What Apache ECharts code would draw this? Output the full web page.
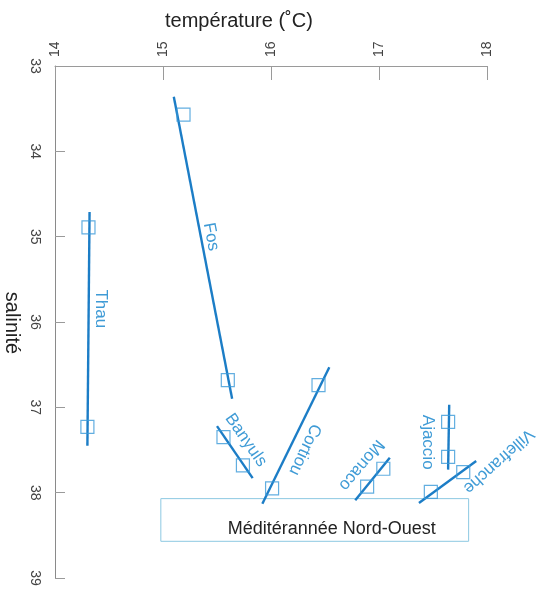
<!DOCTYPE html>
<html><head><meta charset="utf-8">
<script src="https://cdn.jsdelivr.net/npm/echarts@6/dist/echarts.min.js"></script>
<style>html,body{margin:0;padding:0;background:#fff}#c{width:546px;height:589px}</style>
</head><body><div id="c"></div>
<script>
// ---- data ----
const xTicks = [14, 15, 16, 17, 18];
const yTicks = [33, 34, 35, 36, 37, 38, 39];
const siteNames = ['Thau', 'Fos', 'Banyuls', 'Cortiou', 'Monaco', 'Ajaccio', 'Villefranche'];
// measured points [température, salinité]
const thauPoints = [[14.31, 34.89], [14.30, 37.23]];
const fosPoints = [[15.19, 33.57], [15.60, 36.68]];
const banyulsPoints = [[15.56, 37.35], [15.74, 37.68]];
const cortiouPoints = [[16.44, 36.74], [16.01, 37.95]];
const monacoPoints = [[17.04, 37.72], [16.89, 37.93]];
const ajaccioPoints = [[17.64, 37.17], [17.64, 37.58]];
const villefranchePoints = [[17.78, 37.76], [17.48, 37.99]];
// fitted lines (end points)
const thauLine = [[14.32, 34.71], [14.30, 37.45]];
const fosLine = [[15.10, 33.36], [15.64, 36.90]];
const banyulsLine = [[15.50, 37.22], [15.83, 37.83]];
const cortiouLine = [[16.54, 36.53], [15.92, 38.13]];
const monacoLine = [[17.10, 37.59], [16.78, 38.09]];
const ajaccioLine = [[17.65, 36.97], [17.64, 37.73]];
const villefrancheLine = [[17.90, 37.63], [17.37, 38.12]];
// water mass box
const boxName = 'Méditérannée Nord-Ouest';
const boxCorners = [[14.98, 38.07], [17.83, 38.57]];

const allPoints = [thauPoints, fosPoints, banyulsPoints, cortiouPoints, monacoPoints, ajaccioPoints, villefranchePoints];
const allLines = [thauLine, fosLine, banyulsLine, cortiouLine, monacoLine, ajaccioLine, villefrancheLine];

// ---- styles ----
const lineColor = '#1c7dc6';
const markColor = '#3b9ad8';
const labelColor = '#3f9bd6';
const FONT = '"Liberation Sans", Arial, sans-serif';
// label placement (pixel offsets from line midpoint, rotation clockwise deg)
const labelStyle = {
  Thau: {dx: 12, dy: -20, rot: 90},
  Fos: {dx: 8, dy: -11, rot: 79},
  Banyuls: {dx: 11, dy: -12, rot: 55},
  Cortiou: {dx: 9, dy: 14, rot: 115},
  Monaco: {dx: -11, dy: -14, rot: 130},
  Ajaccio: {dx: -21, dy: 5, rot: 90},
  Villefranche: {dx: 51, dy: -21, rot: 138}
};

const chart = echarts.init(document.getElementById('c'), null, {renderer: 'canvas'});

const series = [];
siteNames.forEach((n, i) => {
  series.push({
    name: n + '-line', type: 'line', data: allLines[i], symbol: 'none',
    lineStyle: {color: lineColor, width: 2.4}, z: 2, silent: true, animation: false
  });
  series.push({
    name: n, type: 'scatter', data: allPoints[i], symbol: 'rect', symbolSize: 13,
    itemStyle: {color: 'rgba(0,0,0,0)', borderColor: markColor, borderWidth: 1.2}, z: 3, animation: false
  });
});
series.push({
  name: 'box', type: 'scatter', data: [], animation: false,
  markArea: {
    silent: true,
    itemStyle: {color: 'rgba(0,0,0,0)', borderColor: '#8cc8e2', borderWidth: 1},
    label: {show: true, position: 'inside', offset: [17, 9], color: '#222', fontSize: 18, fontFamily: FONT},
    data: [[{name: boxName, coord: boxCorners[0]}, {coord: boxCorners[1]}]]
  }
});

chart.setOption({
  animation: false,
  grid: {left: 55, top: 66, width: 432, height: 512},
  xAxis: {
    type: 'value', position: 'top', min: xTicks[0], max: xTicks[xTicks.length - 1], interval: 1,
    axisLine: {show: true, lineStyle: {color: '#9a9a9a', width: 1}},
    axisTick: {show: true, inside: true, length: 14, lineStyle: {color: '#9a9a9a'}},
    axisLabel: {rotate: -90, margin: 9, color: '#444', fontSize: 14, fontFamily: FONT},
    splitLine: {show: false}
  },
  yAxis: {
    type: 'value', inverse: true, min: yTicks[0], max: yTicks[yTicks.length - 1], interval: 1,
    axisLine: {show: true, lineStyle: {color: '#8a8a8a', width: 1}},
    axisTick: {show: true, inside: true, length: 10, lineStyle: {color: '#9a9a9a'}},
    axisLabel: {rotate: -90, margin: 13, color: '#444', fontSize: 14, fontFamily: FONT},
    splitLine: {show: false}
  },
  series: series
});

const graphics = [
  {type: 'text', x: 165, y: 21, style: {text: 'température (˚C)', fill: '#222', font: '20px ' + FONT, align: 'left', verticalAlign: 'middle'}},
  {type: 'text', x: 12, y: 323, rotation: -Math.PI / 2,
   style: {text: 'salinité', fill: '#222', font: '20px ' + FONT, align: 'center', verticalAlign: 'middle'}}
];
siteNames.forEach((n, i) => {
  const l = allLines[i];
  const mid = [(l[0][0] + l[1][0]) / 2, (l[0][1] + l[1][1]) / 2];
  const p = chart.convertToPixel({gridIndex: 0}, mid);
  const s = labelStyle[n];
  graphics.push({
    type: 'text', x: p[0] + s.dx, y: p[1] + s.dy, rotation: -s.rot * Math.PI / 180, z: 10,
    style: {text: n, fill: labelColor, font: '17px ' + FONT, align: 'center', verticalAlign: 'middle'}
  });
});
chart.setOption({graphic: graphics});
</script></body></html>
